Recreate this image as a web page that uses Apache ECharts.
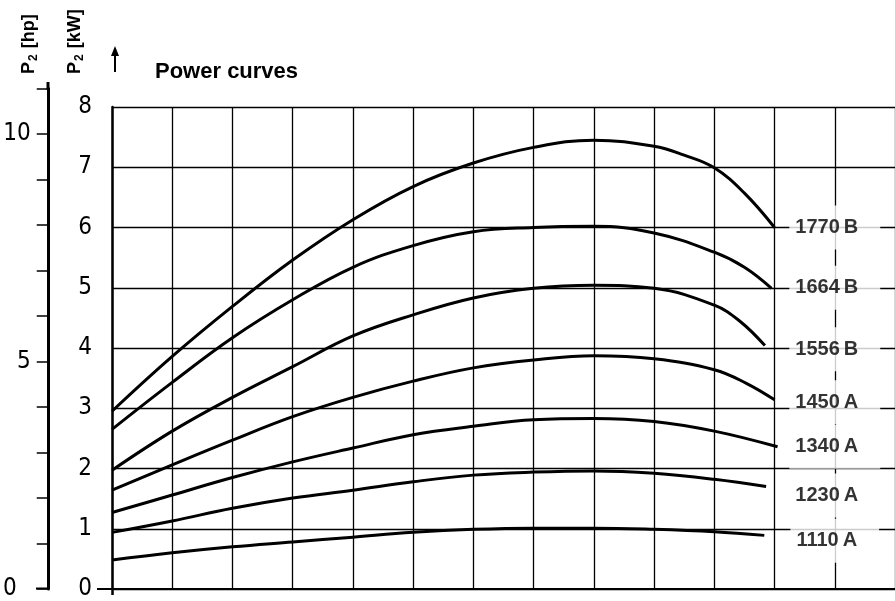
<!DOCTYPE html>
<html><head><meta charset="utf-8">
<script src="https://cdn.jsdelivr.net/npm/echarts@6/dist/echarts.min.js"></script>
<style>html,body{margin:0;padding:0;background:#fff}#c{width:895px;height:601px}</style>
</head><body><div id="c"></div>
<script>
// ---- data (x in grid columns, y in kW) ----
const curveNames = ['1770\u2009B', '1664\u2009B', '1556\u2009B', '1450\u2009A', '1340\u2009A', '1230\u2009A', '1110\u2009A'];
const x1770 = [0, 1, 2, 3, 4, 5, 6, 7, 8, 9, 9.5, 10, 10.5, 11];
const p1770 = [2.95, 3.86, 4.69, 5.46, 6.13, 6.68, 7.07, 7.33, 7.45, 7.35, 7.20, 6.99, 6.57, 6.00];
const x1664 = [0, 1, 2, 3, 4, 5, 6, 7, 8, 9, 10, 10.5, 10.95];
const p1664 = [2.65, 3.43, 4.17, 4.80, 5.34, 5.70, 5.93, 6.00, 6.02, 5.91, 5.59, 5.34, 4.99];
const x1556 = [0, 1, 2, 3, 4, 5, 6, 7, 8, 9, 10, 10.43, 10.84];
const p1556 = [1.97, 2.62, 3.18, 3.69, 4.20, 4.55, 4.83, 4.99, 5.04, 4.99, 4.71, 4.44, 4.04];
const x1450 = [0, 1, 2, 3, 4, 5, 6, 7, 8, 9, 10, 10.54, 11];
const p1450 = [1.64, 2.06, 2.47, 2.86, 3.18, 3.45, 3.67, 3.80, 3.87, 3.82, 3.64, 3.41, 3.14];
const x1340 = [0, 1, 2, 3, 4, 5, 6, 7, 8, 9, 10, 11.05];
const p1340 = [1.27, 1.56, 1.85, 2.11, 2.34, 2.56, 2.70, 2.81, 2.83, 2.78, 2.62, 2.36];
const x1230 = [0, 1, 2, 3, 4, 5, 6, 7, 8, 9, 10, 10.86];
const p1230 = [0.94, 1.13, 1.34, 1.51, 1.64, 1.78, 1.89, 1.94, 1.96, 1.92, 1.82, 1.70];
const x1110 = [0, 1, 2, 3, 4, 5, 6, 7, 8, 9, 10, 10.83];
const p1110 = [0.48, 0.60, 0.70, 0.78, 0.86, 0.94, 0.99, 1.01, 1.01, 0.99, 0.95, 0.89];
const labelLevels = [6.0, 5.0, 3.98, 3.10, 2.36, 1.55, 0.80];
const labelColumn = 12;
const kwTicks = [0, 1, 2, 3, 4, 5, 6, 7, 8];
const hpTicks = [0, 5, 10];
const hpMax = 11;
const titleText = 'Power curves';

const xs = [x1770, x1664, x1556, x1450, x1340, x1230, x1110];
const ps = [p1770, p1664, p1556, p1450, p1340, p1230, p1110];

const tickFont = "'DejaVu Sans Condensed','Liberation Sans Narrow',sans-serif";
const boldFont = "'Liberation Sans',Arial,sans-serif";

const chart = echarts.init(document.getElementById('c'), null, {renderer: 'canvas'});

const lineSeries = curveNames.map((n, i) => ({
  name: n, type: 'line', xAxisIndex: 0, yAxisIndex: 0,
  data: xs[i].map((x, j) => [x, ps[i][j]]),
  smooth: 0.4, showSymbol: false, symbol: 'none',
  lineStyle: {color: '#000', width: 3}, z: 3, silent: true
}));

const labelSeries = {
  type: 'scatter', xAxisIndex: 0, yAxisIndex: 0, symbolSize: 0, z: 5, silent: true,
  data: labelLevels.map((v, i) => ({value: [labelColumn, v], name: curveNames[i]})),
  label: {
    show: true, position: 'inside', formatter: p => p.name,
    color: '#000', fontFamily: boldFont, fontWeight: 'bold', fontSize: 20,
    backgroundColor: '#fff', padding: [12, 22, 12, 6]
  }
};

const nameRich = {
  a: {fontFamily: boldFont, fontWeight: 'bold', fontSize: 18, fill: '#000', lineHeight: 21},
  b: {fontFamily: boldFont, fontWeight: 'bold', fontSize: 12, fill: '#000', verticalAlign: 'bottom', padding: [0, 1, 0, 1]}
};

chart.setOption({
  animation: false,
  backgroundColor: '#fff',
  title: {
    text: titleText, left: 150, top: 56,
    textStyle: {fontFamily: boldFont, fontWeight: 'bold', fontSize: 22, color: '#000'}
  },
  grid: [
    {left: 112, right: 0, top: 107, bottom: 12},
    {left: 48, width: 1, top: 589 - 45.5 * hpMax, bottom: 12}
  ],
  xAxis: [
    {gridIndex: 0, type: 'value', min: 0, max: 13, interval: 1,
     axisLine: {show: true, lineStyle: {color: '#000', width: 2}},
     axisTick: {show: false}, axisLabel: {show: false},
     splitLine: {show: true, lineStyle: {color: '#000', width: 1.3}}},
    {gridIndex: 1, type: 'value', show: false, min: 0, max: 1}
  ],
  yAxis: [
    {gridIndex: 0, type: 'value', min: 0, max: 8, interval: 1,
     axisLine: {show: true, onZero: false, lineStyle: {color: '#000', width: 2.5}},
     axisTick: {show: false},
     axisLabel: {margin: 20, fontSize: 24, color: '#000', fontFamily: tickFont,
                 formatter: v => kwTicks.includes(v) ? String(v) : ''},
     splitLine: {show: true, lineStyle: {color: '#000', width: 1.3}}},
    {gridIndex: 1, type: 'value', min: 0, max: hpMax, interval: 1,
     axisLine: {show: true, onZero: false, lineStyle: {color: '#000', width: 3}},
     axisTick: {show: true, length: 12, lineStyle: {color: '#000', width: 1.5}},
     axisLabel: {margin: 18, fontSize: 24, color: '#000', fontFamily: tickFont,
                 formatter: v => v === 0 ? '{z|0}' : (hpTicks.includes(v) ? String(v) : ''),
                 rich: {z: {fontSize: 24, fontFamily: tickFont, color: '#000', padding: [0, 14, 0, 0]}}},
     splitLine: {show: false}}
  ],
  graphic: [
    {type: 'line', shape: {x1: 48, y1: 82, x2: 48, y2: 90}, style: {stroke: '#000', lineWidth: 3}},
    {type: 'line', shape: {x1: 36, y1: 588.5, x2: 48, y2: 588.5}, style: {stroke: '#000', lineWidth: 2}},
    {type: 'line', shape: {x1: 97, y1: 589, x2: 113, y2: 589}, style: {stroke: '#000', lineWidth: 2}},
    {type: 'line', shape: {x1: 112.5, y1: 589, x2: 112.5, y2: 595}, style: {stroke: '#000', lineWidth: 2.5}},
    {type: 'line', shape: {x1: 115, y1: 53, x2: 115, y2: 72}, style: {stroke: '#000', lineWidth: 2}},
    {type: 'polygon', shape: {points: [[111, 56], [115, 46], [119, 56]]}, style: {fill: '#000'}},
    {type: 'text', x: 29, y: 74, rotation: Math.PI / 2,
     style: {text: '{a|P}{b|2}{a| [hp]}', textAlign: 'left', textVerticalAlign: 'middle', rich: nameRich}},
    {type: 'text', x: 75, y: 74, rotation: Math.PI / 2,
     style: {text: '{a|P}{b|2}{a| [kW]}', textAlign: 'left', textVerticalAlign: 'middle', rich: nameRich}}
  ],
  series: lineSeries.concat([labelSeries])
});
</script></body></html>
